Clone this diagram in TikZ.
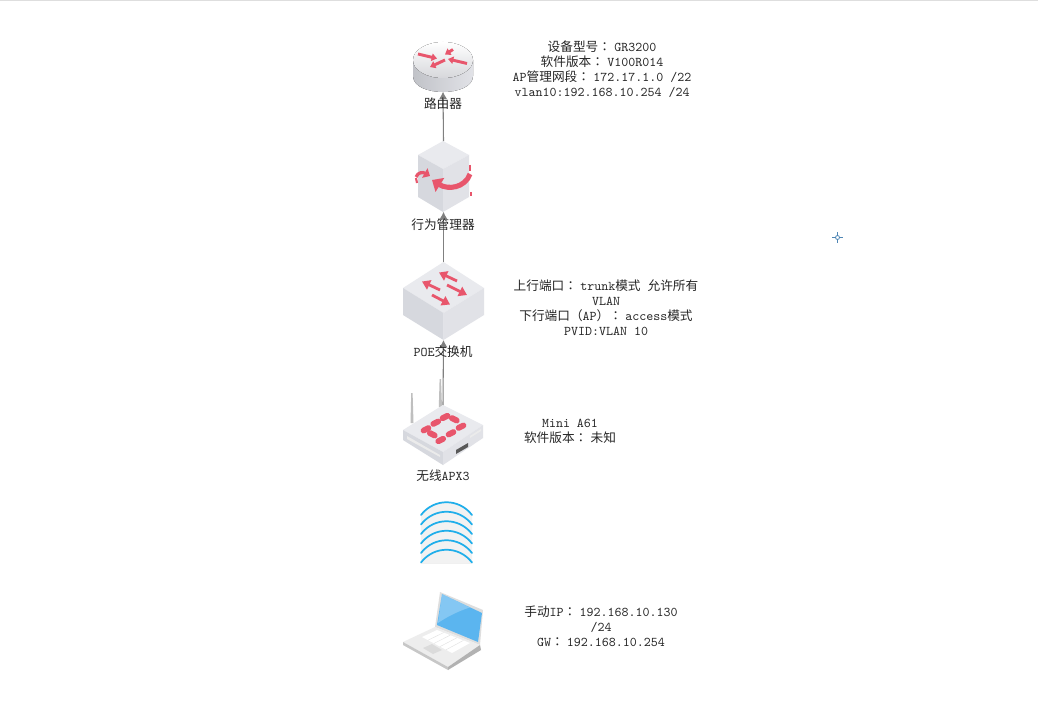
\documentclass[tikz,border=0pt]{standalone}
\usepackage{fontspec}
\usetikzlibrary{arrows.meta,shapes.geometric,calc}
\newfontfamily\cjk{Noto Sans CJK SC}
\newfontfamily\cjkt{Noto Sans CJK TC}
\newcommand{\C}[1]{{\fontsize{9.5}{11.25}\cjk #1}}
\newcommand{\Q}{{\fontsize{9.5}{11.25}\cjkt ：}\kern2.4pt\relax}
\definecolor{redmark}{HTML}{E8566C}
\definecolor{facetop}{HTML}{E9EAEE}
\definecolor{faceleft}{HTML}{D6D8DE}
\definecolor{faceright}{HTML}{E1E2E7}
\definecolor{wavecol}{HTML}{1FAEEA}
\definecolor{screenblue}{HTML}{5BB5EF}
\definecolor{linkgray}{HTML}{808080}
\definecolor{crossblue}{HTML}{4F86B5}
\tikzset{
  info/.style={font=\fontsize{10}{11.25}\selectfont\ttfamily,align=center,text=black!85,inner sep=0pt},
  devlabel/.style={info},
  icon/.style={inner sep=0pt,outer sep=0pt},
  link/.style={draw=linkgray,line width=.8pt,-{Latex[length=5.5pt,width=6pt]}},
  redarrow/.style={draw=redmark,line width=2.1pt,-{Triangle[length=6pt,width=7.5pt]}},
  redarrowsmall/.style={draw=redmark,line width=2.2pt,-{Triangle[length=4pt,width=5.5pt]}},
  redbar/.style={draw=redmark,line width=4.4pt,line cap=round},
  wavearc/.style={draw=wavecol,line width=1.3pt,line cap=round},
}
\begin{document}
\begin{tikzpicture}[x=.75pt,y=-.75pt]
\useasboundingbox (0,0) rectangle (1038,713);
\fill[white] (0,0) rectangle (1038,713);
\fill[black!13] (0,0) rectangle (1038,1.3);

% router
\fill[left color=faceleft!90!black,right color=faceright] (413,60) -- (413,76) .. controls (413,97.3) and (473,97.3) .. (473,76) -- (473,60) -- cycle;
\fill[top color=white,bottom color=facetop!92!black] (443,60) ellipse[x radius=30,y radius=18];
\draw[redarrowsmall] (418,54) -- (437,58.5);
\draw[redarrowsmall] (467,63.5) -- (448,59);
\draw[redarrowsmall] (453,49.5) -- (445,54.5);
\draw[redarrowsmall] (445,60) -- (430,67);
\node[icon,minimum width=45pt,minimum height=38.5pt] (router) at (443,66) {};

% behaviour manager
\fill[facetop] (443,141) -- (469,155) -- (443,169) -- (418,155) -- cycle;
\fill[faceleft] (418,155) -- (443,169) -- (443,212) -- (418,197) -- cycle;
\fill[faceright] (469,155) -- (443,169) -- (443,212) -- (469,197) -- cycle;
\draw[redmark,line width=3.8pt,-{Triangle[length=7pt,width=12pt]}] (470,174) .. controls (465,188) and (448,190) .. (432,180);
\draw[redmark,line width=2.4pt,-{Triangle[length=4.5pt,width=8pt]}] (416,177) .. controls (418,172) and (423,172) .. (430,176);
\draw[redmark,line width=1.6pt] (416,178) -- (417,183);
\draw[redmark,line width=1.6pt] (470,165) -- (470,171);
\draw[redmark,line width=1.6pt] (471,192) -- (471,196);
\node[icon,minimum width=38.5pt,minimum height=53pt] (manager) at (443.5,176.5) {};

% PoE switch
\fill[facetop] (443.5,262) -- (484,288) -- (443.5,313) -- (403,288) -- cycle;
\fill[faceleft] (403,288) -- (443.5,313) -- (443.5,340) -- (403,315) -- cycle;
\fill[faceright] (484,288) -- (443.5,313) -- (443.5,340) -- (484,315) -- cycle;
\draw[redarrow] (457,281) -- (439,272.5);
\draw[redarrow] (440,290) -- (422,281.5);
\draw[redarrow] (447,285) -- (467,295);
\draw[redarrow] (432,295) -- (450,304.5);
\node[icon,minimum width=61pt,minimum height=58.5pt] (switch) at (443.5,301) {};

% wireless AP
\fill[black!25] (411.2,393) -- (412.6,393) -- (413.5,423) -- (410.5,423) -- cycle;
\fill[black!25] (439.6,379) -- (441,379) -- (442,407) -- (438.8,407) -- cycle;
\fill[facetop] (443,405) -- (483,425) -- (443,452) -- (403,430) -- cycle;
\fill[faceleft] (403,430) -- (443,452) -- (443,465) -- (403,440) -- cycle;
\fill[faceright] (483,425) -- (443,452) -- (443,465) -- (483,438) -- cycle;
\fill[white!92!black] (407,436) -- (440,455) -- (440,457) -- (407,439) -- cycle;
\fill[white!92!black] (470,436) -- (481,429) -- (481,431) -- (470,438) -- cycle;
\fill[black!65] (456,450) -- (468,443) -- (468,447) -- (456,454) -- cycle;
\foreach \cx/\cy/\ddx/\ddy in {445/417/2.4/-1.2, 435.7/422.7/2.4/-1.2, 454.3/419.3/2.4/1.2, 426/429.3/2.4/-1.2, 461/426.7/2.4/-1.2, 432.3/434.3/2.4/1.2, 451/433.3/2.4/-1.2, 440.7/440/2.4/-1.2}{
  \draw[redbar] (\cx-\ddx,\cy-\ddy) -- (\cx+\ddx,\cy+\ddy);
}
\node[icon,minimum width=60pt,minimum height=45pt] (ap) at (443,435) {};

% wireless waves
\fill[black!9] (421,563.5) .. controls (433,549) and (460,549) .. (472,563.5) -- cycle;
\fill[black!5] (421,516) .. controls (435,498) and (458,498) .. (472,516) -- (472,563) -- (421,563) -- cycle;
\foreach \dy in {0,9.5,19,28.5,38,47.5}{
  \draw[wavearc] (421,515+\dy) .. controls (434,498+\dy) and (459,498+\dy) .. (472,515+\dy);
}
\node[icon,minimum width=39pt,minimum height=46pt] (wave) at (446.5,534) {};

% laptop
\fill[black!13] (440,592) -- (483,610) -- (480,645) -- (435,627) -- cycle;
\fill[screenblue] (442,594) -- (482,613) -- (478,642) -- (437,625) -- cycle;
\fill[white,opacity=.25] (442,594) -- (470,607.5) .. controls (458,611) and (445,618) .. (438,623) -- cycle;
\fill[black!7] (403,642) -- (435,627) -- (480,645) -- (448,667) -- cycle;
\fill[black!22] (403,642) -- (448,667) -- (448,670) -- (403,645) -- cycle;
\fill[black!30] (480,645) -- (448,667) -- (448,670) -- (481,650) -- cycle;
\fill[white] (422,637) -- (437,630) -- (470,643) -- (452,653) -- cycle;
\foreach \t in {.2,.4,.6,.8}{
  \draw[black!12,line width=.3pt] ($(422,637)!\t!(452,653)$) -- ($(437,630)!\t!(470,643)$);
}
\fill[black!14] (423,648) -- (432,644) -- (442,650) -- (433,654) -- cycle;
\node[icon,minimum width=60pt,minimum height=60pt] (laptop) at (443,631) {};

% connectors
\draw[link] (manager.north) -- (router.south);
\draw[link] (switch.north) -- (manager.south);
\draw[link] (ap.north) -- (switch.south);

% device labels
\node[devlabel] (lrouter) at (443,103.7) {\C{路由器}};
\node[devlabel] (lmanager) at (443,224.7) {\C{行为管理器}};
\node[devlabel] (lswitch) at (443,351.7) {POE\C{交换机}};
\node[devlabel] (lap) at (443,476) {\C{无线}APX3};

% info texts
\node[info] (info1) at (602,69) {\C{设备型号}\Q{}GR3200\\\C{软件版本}\Q{}V100R014\\AP\C{管理网段}\Q{}172.17.1.0 /22\\vlan10:192.168.10.254 /24};
\node[info] (info2) at (606,308) {\C{上行端口}\Q{}trunk\C{模式} \C{允许所有}\\VLAN\\\C{下行端口（}AP\C{）}\Q{}access\C{模式}\\PVID:VLAN 10};
\node[info] (info3) at (570,431) {Mini A61\\\C{软件版本}\Q{}\C{未知}};
\node[info] (info4) at (601,626.5) {\C{手动}IP\Q{}192.168.10.130\\/24\\GW\Q{}192.168.10.254};

% cursor mark
\draw[crossblue,line width=.7pt] (837.5,232) -- (837.5,235.5) (837.5,239.5) -- (837.5,243) (832,237.5) -- (835.5,237.5) (839.5,237.5) -- (843,237.5);
\draw[crossblue,line width=.6pt] (837.5,237.5) circle[radius=2];
\end{tikzpicture}
\end{document}
